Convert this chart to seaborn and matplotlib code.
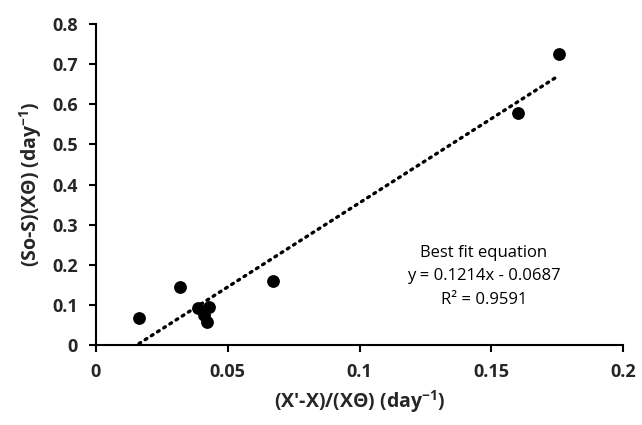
import numpy as np
import pandas as pd
import matplotlib
matplotlib.use("Agg")
import matplotlib.pyplot as plt
import seaborn as sns

# Specific growth terms (x) against substrate utilisation terms (y)
growth_term = [0.0163, 0.0318, 0.0386, 0.0410, 0.0420, 0.0430, 0.0670, 0.1600, 0.1758]
uptake_term = [0.067, 0.145, 0.093, 0.075, 0.058, 0.095, 0.160, 0.578, 0.725]

x_ticks = [0, 0.05, 0.1, 0.15, 0.2]
x_tick_labels = ["0", "0.05", "0.1", "0.15", "0.2"]
y_ticks = [0, 0.1, 0.2, 0.3, 0.4, 0.5, 0.6, 0.7, 0.8]
y_tick_labels = ["0", "0.1", "0.2", "0.3", "0.4", "0.5", "0.6", "0.7", "0.8"]

fit_lines = ["Best fit equation", "y = 0.1214x - 0.0687", "R\u00b2 = 0.9591"]

df = pd.DataFrame({"x": growth_term, "y": uptake_term})

sns.set_theme(style="white")
plt.rcParams["font.family"] = ["Open Sans", "DejaVu Sans"]
plt.rcParams["mathtext.fontset"] = "custom"
plt.rcParams["mathtext.bf"] = "Open Sans:bold"
plt.rcParams["mathtext.rm"] = "Open Sans"

fig = plt.figure(figsize=(6.42, 4.25), dpi=100)
ax = fig.add_axes([96 / 642, 1 - 345 / 425, (623 - 96) / 642, (345 - 24) / 425])

sns.regplot(data=df, x="x", y="y", scatter=False, ci=None, ax=ax,
            line_kws=dict(color="black", lw=2.4, linestyle=(0, (0.6, 1.6)),
                          dash_capstyle="round"))
sns.scatterplot(data=df, x="x", y="y", ax=ax, color="black", s=85,
                edgecolor="black", linewidth=0, zorder=3)

ax.set_xlim(0, 0.2)
ax.set_ylim(0, 0.8)
ax.set_xticks(x_ticks)
ax.set_xticklabels(x_tick_labels, fontsize=13, fontweight="bold")
ax.set_yticks(y_ticks)
ax.set_yticklabels(y_tick_labels, fontsize=13, fontweight="bold")
ax.tick_params(axis="both", direction="out", length=5, width=1.5, color="black",
               bottom=True, left=True, pad=8)
for side in ("top", "right"):
    ax.spines[side].set_visible(False)
for side in ("left", "bottom"):
    ax.spines[side].set_color("black")
    ax.spines[side].set_linewidth(1.5)

ax.set_xlabel("(X'-X)/(X\u0398) (day$^{\\mathbf{-1}}$)", fontsize=14,
              fontweight="bold", labelpad=5)
ax.set_ylabel("(So-S)(X\u0398) (day$^{\\mathbf{-1}}$)", fontsize=14,
              fontweight="bold", labelpad=6)

for i, line in enumerate(fit_lines):
    ax.text(0.1472, 0.229 - i * 0.058, line, fontsize=12, ha="center", va="center",
            color="black")

fig.savefig("out.png", dpi=100)
